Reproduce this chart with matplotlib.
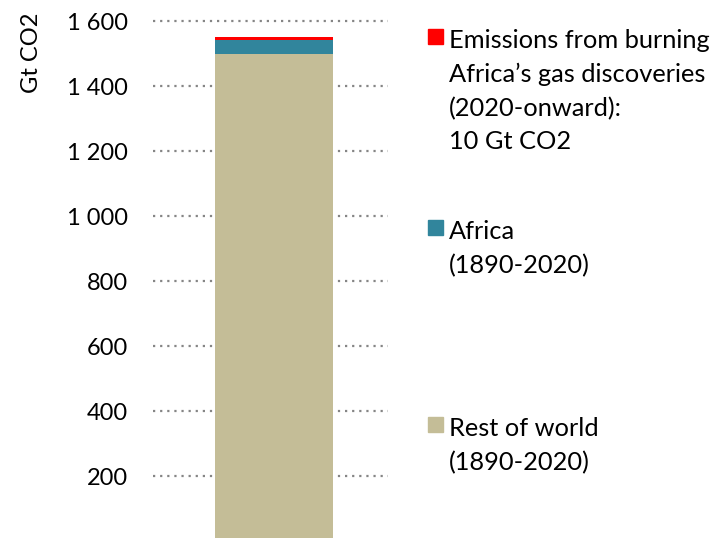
import matplotlib.pyplot as plt
from matplotlib.patches import Rectangle

# cumulative CO2 emissions, Gt
segments = ["Rest of world", "Africa", "Gas discoveries"]
values = [1500, 42, 10]
colors = ["#C4BD97", "#31859C", "#FF0000"]
yticks = [200, 400, 600, 800, 1000, 1200, 1400, 1600]
ytick_labels = ["200", "400", "600", "800", "1 000", "1 200", "1 400", "1 600"]
legend_texts = [
    "Rest of world\n(1890-2020)",
    "Africa\n(1890-2020)",
    "Emissions from burning\nAfrica\u2019s gas discoveries\n(2020-onward):\n10 Gt CO2",
]

plt.rcParams["font.family"] = ["Lato", "DejaVu Sans"]

fig = plt.figure(figsize=(7.15, 5.38), dpi=100)
W, H = 715, 538
ax = fig.add_axes([153 / W, -3 / H, 235 / W, 523 / H])

bottom = 0
for v, c in zip(values, colors):
    ax.bar(0, v, bottom=bottom, width=0.502, color=c, zorder=3)
    bottom += v

ax.set_xlim(-0.515, 0.485)
ax.set_ylim(0, 1610)
ax.set_yticks(yticks)
ax.set_yticklabels(ytick_labels, fontsize=17)
ax.tick_params(axis="y", length=0, pad=18)
ax.set_xticks([])
for s in ax.spines.values():
    s.set_visible(False)
ax.yaxis.grid(True, color="#858585", linestyle=(0, (1, 2.2)), linewidth=1.6, zorder=0)

fig.text(32 / W, 1 - 53 / H, "Gt CO2", rotation=90, ha="center", va="center", fontsize=17)

# legend entries placed beside the matching segment
legend_tops = [428, 231, 40]
for txt, c, ytop in zip(legend_texts, colors, legend_tops):
    fig.patches.append(Rectangle((428 / W, 1 - (ytop + 4) / H), 15 / W, 15 / H,
                                 transform=fig.transFigure, color=c))
    fig.text(449 / W, 1 - (ytop - 11) / H, txt, ha="left", va="top",
             fontsize=18.3, linespacing=1.55)

fig.savefig("out.png", dpi=100)
